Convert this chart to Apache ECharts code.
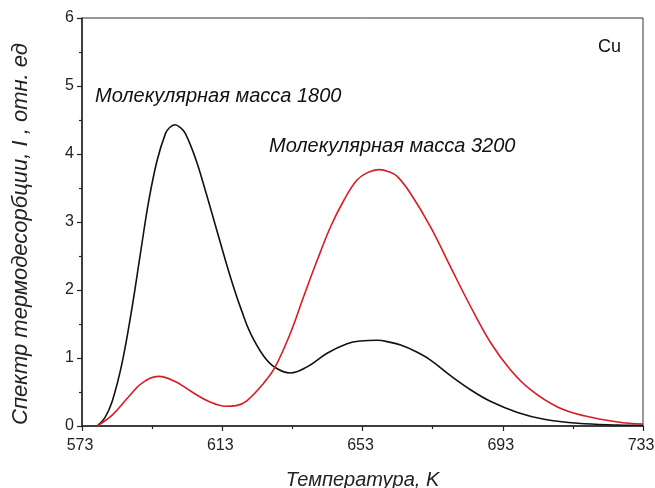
<!DOCTYPE html>
<html>
<head>
<meta charset="utf-8">
<script src="https://cdn.jsdelivr.net/npm/echarts@6/dist/echarts.min.js"></script>
<style>
  html, body { margin: 0; padding: 0; background: #fff; }
  #chart { width: 655px; height: 488px; }
</style>
</head>
<body>
<div id="chart"></div>
<script>
// Thermal desorption spectra, molecular mass 1800 (black) and 3200 (red)
const tempM1800 = [577.3, 579.5, 581.6, 584.4, 587.3, 589.7, 592.0, 594.4, 596.8, 598.0, 599.5, 601.0, 602.5, 605.4, 608.2, 611.1, 614.0, 616.5, 618.5, 621.0, 624.8, 628.1, 632.4, 637.2, 642.9, 648.6, 652.5, 657.2, 661.0, 663.9, 668.0, 672.4, 678.1, 683.9, 689.6, 697.2, 704.8, 714.4, 725.8, 733.0];
const intensityM1800 = [0.0, 0.12, 0.36, 0.92, 1.75, 2.55, 3.30, 3.90, 4.30, 4.39, 4.43, 4.39, 4.30, 3.93, 3.46, 2.94, 2.42, 2.00, 1.70, 1.37, 1.03, 0.86, 0.78, 0.87, 1.07, 1.21, 1.25, 1.26, 1.23, 1.19, 1.10, 0.97, 0.74, 0.53, 0.36, 0.20, 0.10, 0.04, 0.015, 0.01];

const tempM3200 = [577.3, 581.6, 586.3, 590.1, 594.9, 599.7, 604.4, 609.2, 614.0, 617.0, 620.0, 624.8, 628.1, 632.4, 636.2, 640.1, 643.9, 647.7, 651.5, 654.6, 657.7, 660.5, 662.9, 666.7, 672.4, 678.1, 683.9, 689.6, 695.3, 701.0, 708.6, 716.2, 725.8, 733.0];
const intensityM3200 = [0.0, 0.16, 0.43, 0.63, 0.73, 0.65, 0.50, 0.36, 0.29, 0.30, 0.37, 0.63, 0.87, 1.36, 1.90, 2.44, 2.93, 3.32, 3.62, 3.73, 3.77, 3.74, 3.67, 3.42, 2.93, 2.34, 1.75, 1.22, 0.82, 0.53, 0.28, 0.15, 0.06, 0.03];

const xMajorTicks = [573, 613, 653, 693, 733];
const xMinorTicks = [593, 633, 673, 713];

const pairs = (xs, ys) => xs.map((x, i) => [x, ys[i]]);

const axisColor = '#222';
const fontFamily = 'Liberation Sans, Arial, sans-serif';

const chart = echarts.init(document.getElementById('chart'), null, { renderer: 'canvas' });

chart.setOption({
  animation: false,
  backgroundColor: '#fff',
  grid: {
    left: 82, right: 12, top: 18, bottom: 62,
    outerBoundsMode: 'none',
    show: true, borderColor: '#333', borderWidth: 1
  },
  xAxis: [
    {
      type: 'value', min: 573, max: 733,
      name: 'Температура, K',
      nameLocation: 'middle', nameGap: 44,
      nameTextStyle: { fontFamily, fontSize: 20, fontStyle: 'italic', color: axisColor },
      axisLine: { show: true, onZero: false, lineStyle: { color: axisColor, width: 1.5 } },
      axisTick: { show: true, customValues: xMajorTicks, length: 5, inside: false, lineStyle: { color: axisColor, width: 1.2 } },
      axisLabel: { customValues: xMajorTicks, fontFamily, fontSize: 16, color: axisColor, margin: 12, padding: [0, 4, 0, 0] },
      splitLine: { show: false }
    },
    {
      type: 'value', min: 573, max: 733, position: 'bottom',
      axisLine: { show: false },
      axisTick: { show: true, customValues: xMinorTicks, length: 3, lineStyle: { color: axisColor, width: 1.2 } },
      axisLabel: { show: false },
      splitLine: { show: false }
    }
  ],
  yAxis: {
    type: 'value', min: 0, max: 6, interval: 1,
    name: 'Спектр термодесорбции, I , отн. ед',
    nameLocation: 'middle', nameGap: 50,
    nameTextStyle: { fontFamily, fontSize: 22, fontStyle: 'italic', color: axisColor, padding: [0, 24, 0, 0] },
    axisLine: { show: true, lineStyle: { color: axisColor, width: 1.5 } },
    axisTick: { show: true, length: 5, lineStyle: { color: axisColor, width: 1.2 } },
    minorTick: { show: true, splitNumber: 2, length: 3, lineStyle: { color: axisColor, width: 1.2 } },
    axisLabel: { fontFamily, fontSize: 16, color: axisColor, margin: 8 },
    splitLine: { show: false }
  },
  series: [
    {
      type: 'line', name: 'M1800', xAxisIndex: 0,
      data: pairs(tempM1800, intensityM1800),
      smooth: 0.4, showSymbol: false,
      lineStyle: { color: '#111', width: 1.6 }
    },
    {
      type: 'line', name: 'M3200', xAxisIndex: 0,
      data: pairs(tempM3200, intensityM3200),
      smooth: 0.4, showSymbol: false,
      lineStyle: { color: '#d91c24', width: 1.6 }
    }
  ],
  graphic: [
    { type: 'text', left: 95, top: 86, style: { text: 'Молекулярная масса 1800', font: 'italic 20px ' + fontFamily, fill: '#111' } },
    { type: 'text', left: 269, top: 136, style: { text: 'Молекулярная масса 3200', font: 'italic 20px ' + fontFamily, fill: '#111' } },
    { type: 'text', left: 598, top: 38, style: { text: 'Cu', font: '18px ' + fontFamily, fill: '#111' } }
  ]
});
</script>
</body>
</html>
